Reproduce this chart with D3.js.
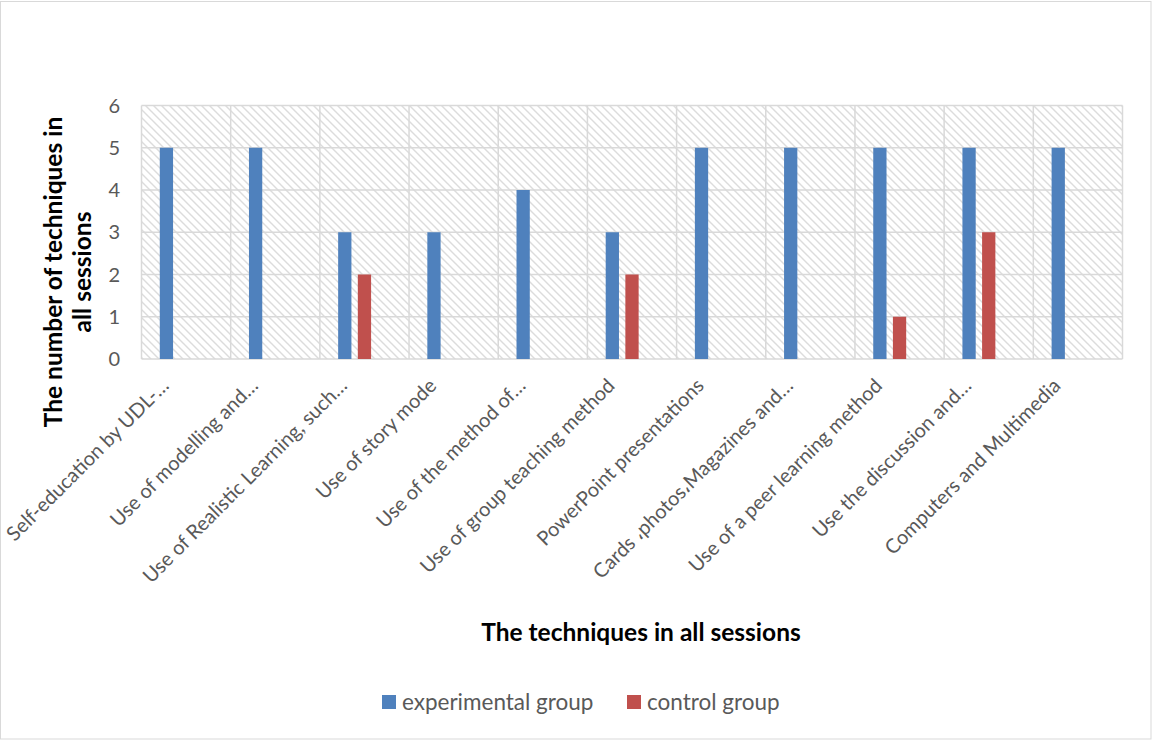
<!DOCTYPE html>
<html>
<head>
<meta charset="utf-8">
<script src="https://cdn.jsdelivr.net/npm/d3@7"></script>
<style>
  html, body { margin: 0; padding: 0; background: #fff; }
  svg { display: block; }
</style>
</head>
<body>
<svg id="chart" width="1152" height="740"></svg>
<script>
const categories = [
  "Self-education by UDL-…",
  "Use of modelling and…",
  "Use of Realistic Learning, such…",
  "Use of story mode",
  "Use of the method of…",
  "Use of group teaching method",
  "PowerPoint presentations",
  "Cards ،photos،Magazines and…",
  "Use of a peer learning method",
  "Use the discussion and…",
  "Computers and Multimedia"
];
const seriesNames = ["experimental group", "control group"];
const experimental = [5, 5, 3, 3, 4, 3, 5, 5, 5, 5, 5];
const control = [0, 0, 2, 0, 0, 2, 0, 0, 1, 3, 0];
const yTicks = [0, 1, 2, 3, 4, 5, 6];
const xTitle = "The techniques in all sessions";
const yTitleLines = ["The number of techniques in", "all sessions"];

const colors = ["#4f81bd", "#c0504d"];
const FONT = "Lato, 'Open Sans', sans-serif";

const svg = d3.select("#chart");
const W = 1152, H = 740;
const plot = { left: 141.5, right: 1122.5, top: 105.5, bottom: 359 };

// outer border
svg.append("rect").attr("x", 0.5).attr("y", 1.5).attr("width", W - 1.5).attr("height", H - 2.5)
  .attr("fill", "#fff").attr("stroke", "#d9d9d9").attr("stroke-width", 1);

// hatch pattern
const defs = svg.append("defs");
const pat = defs.append("pattern").attr("id", "hatch").attr("patternUnits", "userSpaceOnUse")
  .attr("width", 8).attr("height", 8);
pat.append("rect").attr("width", 8).attr("height", 8).attr("fill", "#fff");
pat.append("path").attr("d", "M-2,-2 L10,10 M-2,6 L2,10 M6,-2 L10,2")
  .attr("stroke", "#dcdcdc").attr("stroke-width", 1.4).attr("fill", "none");

const x0 = d3.scaleBand().domain(categories).range([plot.left, plot.right]).paddingInner(0).paddingOuter(0);
// Excel cluster with three slots (third series empty)
const x1 = d3.scaleBand().domain([0, 1, 2]).range([0, x0.bandwidth()]).paddingInner(0.325).paddingOuter(0.93);
const y = d3.scaleLinear().domain([0, 6]).range([plot.bottom, plot.top]);

svg.append("rect").attr("x", plot.left).attr("y", plot.top)
  .attr("width", plot.right - plot.left).attr("height", plot.bottom - plot.top)
  .attr("fill", "url(#hatch)");

// gridlines
const grid = svg.append("g").attr("stroke", "#d9d9d9").attr("stroke-width", 1.5);
yTicks.forEach(t => {
  grid.append("line").attr("x1", plot.left).attr("x2", plot.right).attr("y1", y(t)).attr("y2", y(t));
});
const bounds = categories.map(c => x0(c)).concat([x0(categories[categories.length - 1]) + x0.bandwidth()]);
bounds.forEach(bx => {
  grid.append("line").attr("x1", bx).attr("x2", bx).attr("y1", plot.top).attr("y2", plot.bottom);
});

// bars
const seriesData = [experimental, control];
seriesData.forEach((vals, si) => {
  svg.append("g").selectAll("rect").data(vals).join("rect")
    .attr("x", (d, i) => x0(categories[i]) + x1(si))
    .attr("width", x1.bandwidth())
    .attr("y", d => y(d))
    .attr("height", d => y(0) - y(d))
    .attr("fill", colors[si]);
});

// y tick labels
svg.append("g").selectAll("text").data(yTicks).join("text")
  .attr("x", 120).attr("y", d => y(d)).attr("dy", "0.36em")
  .attr("text-anchor", "end").attr("font-family", FONT).attr("font-size", 20)
  .attr("fill", "#595959").text(d => d);

// x category labels
svg.append("g").selectAll("text").data(categories).join("text")
  .attr("transform", d => `translate(${x0(d) + x0.bandwidth() / 2 - 16},${plot.bottom + 28}) rotate(-45)`)
  .attr("text-anchor", "end").attr("font-family", FONT).attr("font-size", 20)
  .attr("fill", "#595959").text(d => d);

// axis titles
svg.append("text").attr("x", 641).attr("y", 641).attr("text-anchor", "middle")
  .attr("font-family", FONT).attr("font-size", 24.5).attr("font-weight", "bold")
  .attr("fill", "#000").text(xTitle);

const yt = svg.append("text").attr("transform", "translate(0,272) rotate(-90)")
  .attr("text-anchor", "middle").attr("font-family", FONT).attr("font-size", 24.5)
  .attr("font-weight", "bold").attr("fill", "#000");
yTitleLines.forEach((l, i) => {
  yt.append("tspan").attr("x", 0).attr("y", 62 + i * 29).text(l);
});

// legend
const legendX = [382, 627];
seriesNames.forEach((n, i) => {
  const g = svg.append("g").attr("transform", `translate(${legendX[i]},695)`);
  g.append("rect").attr("width", 14).attr("height", 14).attr("fill", colors[i]);
  g.append("text").attr("x", 20).attr("y", 15).attr("font-family", FONT).attr("font-size", 22.5)
    .attr("fill", "#595959").text(n);
});
</script>
</body>
</html>
